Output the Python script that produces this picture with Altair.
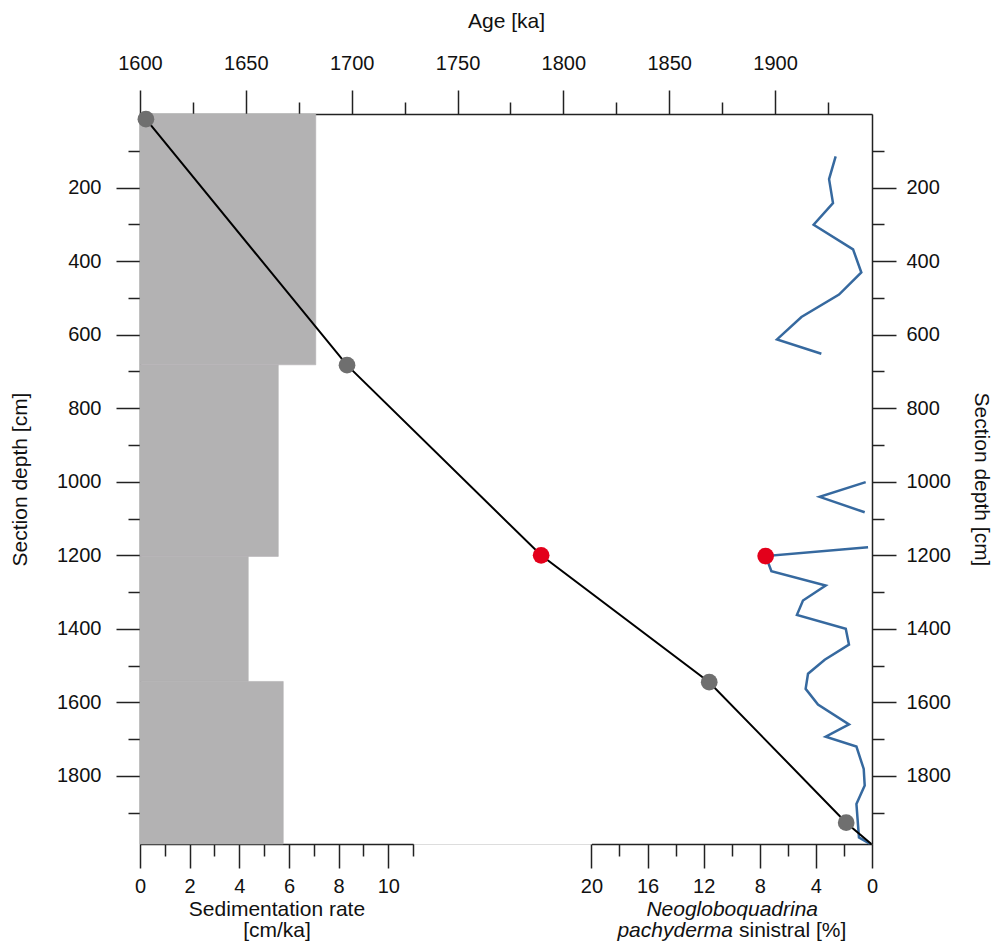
import altair as alt
import pandas as pd

FONT = "Liberation Sans"

# ---------------- data ----------------
# age-model tie points (age [ka], section depth [cm])
tie_age = [1602.8, 1697.8, 1789.5, 1868.9, 1933.6]
tie_depth = [14, 683, 1200, 1545, 1927]
tie_kind = ["grey", "grey", "red", "grey", "grey"]

# age-depth line
line_age = [1602.8, 1697.8, 1789.5, 1868.9, 1933.6, 1945.5]
line_depth = [14, 683, 1200, 1545, 1927, 1985]

# sedimentation rate intervals
sed_top = [0, 682, 1203, 1543]
sed_bottom = [682, 1203, 1543, 1985]
sed_rate = [7.08, 5.57, 4.36, 5.77]

# Neogloboquadrina pachyderma sinistral [%]
np_seg = [1] * 10 + [2] * 3 + [3] * 20
np_depth = [115, 177, 242, 301, 368, 431, 491, 552, 613, 652,
            1001, 1041, 1083,
            1178, 1202, 1243, 1282, 1323, 1362, 1400, 1443, 1484, 1522,
            1563, 1606, 1660, 1693, 1720, 1781, 1826, 1876, 1967, 1984]
np_pct = [2.59, 3.06, 2.78, 4.16, 1.35, 0.76, 2.35, 5.03, 6.77, 3.61,
          0.45, 3.73, 0.52,
          0.28, 7.58, 7.17, 3.30, 4.92, 5.35, 1.87, 1.64, 3.37, 4.56,
          4.73, 3.85, 1.64, 3.30, 1.11, 0.59, 0.52, 1.11, 0.93, 0.16]

red_np_depth = [1202]
red_np_pct = [7.58]

# tick values
age_major = [1600, 1650, 1700, 1750, 1800, 1850, 1900]
age_minor = [1625, 1675, 1725, 1775, 1825, 1875, 1925]
depth_major = [200, 400, 600, 800, 1000, 1200, 1400, 1600, 1800]
depth_minor = [100, 300, 500, 700, 900, 1100, 1300, 1500, 1700, 1900]
sed_major = [0, 2, 4, 6, 8, 10]
sed_minor = [1, 3, 5, 7, 9, 11]
pct_major = [0, 4, 8, 12, 16, 20]
pct_minor = [2, 6, 10, 14, 18]

# ---------------- frames ----------------
tie_df = pd.DataFrame({"age": tie_age, "depth": tie_depth, "kind": tie_kind})
line_df = pd.DataFrame({"age": line_age, "depth": line_depth})
sed_df = pd.DataFrame({"top": sed_top, "bottom": sed_bottom, "rate": sed_rate,
                       "zero": [0] * len(sed_rate)})
np_df = pd.DataFrame({"seg": np_seg, "depth": np_depth, "pct": np_pct})
red_df = pd.DataFrame({"depth": red_np_depth, "pct": red_np_pct})
dummy = pd.DataFrame({"v": [0], "d": [0]})

W, H = 732, 730
age_scale = alt.Scale(domain=[1600, 1945.8], nice=False, zero=False)
depth_scale = alt.Scale(domain=[0, 1985], nice=False, zero=False, reverse=True)
sed_scale = alt.Scale(domain=[0, 11], range=[0, 273.1], nice=False)
pct_scale = alt.Scale(domain=[0, 20], range=[732, 451.4], nice=False)

TXT = "#111111"
AX = "#222222"
TFS = 21
base = dict(labelFont=FONT, labelFontSize=20, labelColor=TXT, tickColor=AX,
            tickWidth=1.5, domainColor=AX, domainWidth=1.5, grid=False,
            labelFlush=False, labelOverlap=False, titleFont=FONT,
            titleFontSize=TFS, titleFontWeight="normal", titleColor=TXT,
            format="d")


def major(**kw):
    d = dict(base)
    d["tickSize"] = 24
    d.update(kw)
    return alt.Axis(**d)


def minor(values, orient):
    return alt.Axis(values=values, orient=orient, labels=False, domain=False,
                    ticks=True, tickSize=12, tickColor=AX, tickWidth=1.5,
                    grid=False, title=None)


def blank_title(text, **kw):
    d = dict(orient="bottom", values=[], labels=False, ticks=False,
             domain=False, grid=False, title=text, titleFont=FONT,
             titleFontSize=TFS, titleFontWeight="normal", titleColor=TXT)
    d.update(kw)
    return alt.Axis(**d)


# sedimentation-rate bars (bottom-left axis, left depth axis)
bars = alt.Chart(sed_df).mark_rect(
    color="#b3b2b3", stroke="#b3b2b3", strokeWidth=0.6
).encode(
    x=alt.X("zero:Q", scale=sed_scale,
            axis=major(orient="bottom", values=sed_major, labelPadding=8,
                       title=["Sedimentation rate", "[cm/ka]"], titleX=136.5,
                       titleY=71, titleAlign="center",
                       titleBaseline="alphabetic", titleLineHeight=21)),
    x2="rate:Q",
    y=alt.Y("top:Q", scale=depth_scale,
            axis=major(orient="left", values=depth_major, labelPadding=15,
                       title="Section depth [cm]", titleAngle=270,
                       titleX=-113.5, titleY=365, titleAlign="center",
                       titleBaseline="alphabetic")),
    y2="bottom:Q",
)

# minor ticks: sed rate + left depth
minor1 = alt.Chart(dummy).mark_point(opacity=0).encode(
    x=alt.X("v:Q", scale=sed_scale, axis=minor(sed_minor, "bottom")),
    y=alt.Y("d:Q", scale=depth_scale, axis=minor(depth_minor, "left")),
)

# minor ticks: age (top) + right depth
minor2 = alt.Chart(dummy).mark_point(opacity=0).encode(
    x=alt.X("v:Q", scale=age_scale, axis=minor(age_minor, "top")),
    y=alt.Y("d:Q", scale=depth_scale, axis=minor(depth_minor, "right")),
)

# minor ticks: pct
minor3 = alt.Chart(dummy).mark_point(opacity=0).encode(
    x=alt.X("v:Q", scale=pct_scale, axis=minor(pct_minor, "bottom")),
    y=alt.Y("d:Q", scale=depth_scale, axis=None),
)

# second title line of the pct axis (mixed italic)
t_pach = alt.Chart(dummy).mark_point(opacity=0).encode(
    x=alt.X("v:Q", scale=pct_scale,
            axis=blank_title("pachyderma", titleFontStyle="italic",
                             titleX=592.5, titleY=92, titleAlign="right",
                             titleBaseline="alphabetic")),
    y=alt.Y("d:Q", scale=depth_scale, axis=None),
)
t_sin = alt.Chart(dummy).mark_point(opacity=0).encode(
    x=alt.X("v:Q", scale=pct_scale,
            axis=blank_title("sinistral [%]", titleX=598.5, titleY=92,
                             titleAlign="left", titleBaseline="alphabetic")),
    y=alt.Y("d:Q", scale=depth_scale, axis=None),
)

# N. pachyderma curve (bottom-right axis)
np_line = alt.Chart(np_df).mark_line(color="#36699f", strokeWidth=2.5).encode(
    x=alt.X("pct:Q", scale=pct_scale,
            axis=major(orient="bottom", values=pct_major, labelPadding=8,
                       title="Neogloboquadrina", titleFontStyle="italic",
                       titleX=591.7, titleY=71, titleAlign="center",
                       titleBaseline="alphabetic")),
    y=alt.Y("depth:Q", scale=depth_scale, axis=None),
    detail="seg:N",
    order="depth:Q",
)

# age model line (top age axis, right depth axis)
age_line = alt.Chart(line_df).mark_line(color="#000000", strokeWidth=2).encode(
    x=alt.X("age:Q", scale=age_scale,
            axis=major(orient="top", values=age_major, labelPadding=17,
                       title="Age [ka]", titleX=366, titleY=-87,
                       titleAlign="center", titleBaseline="alphabetic")),
    y=alt.Y("depth:Q", scale=depth_scale,
            axis=major(orient="right", values=depth_major, labelPadding=10,
                       title="Section depth [cm]", titleAngle=90,
                       titleX=102, titleY=365, titleAlign="center",
                       titleBaseline="alphabetic")),
    order="depth:Q",
)

tie_pts = alt.Chart(tie_df).mark_circle(size=280, opacity=1).encode(
    x=alt.X("age:Q", scale=age_scale, axis=None),
    y=alt.Y("depth:Q", scale=depth_scale, axis=None),
    color=alt.Color("kind:N", scale=alt.Scale(domain=["grey", "red"],
                                               range=["#6f6f6f", "#e3001b"]),
                    legend=None),
)

red_pt = alt.Chart(red_df).mark_circle(size=280, opacity=1, color="#e3001b").encode(
    x=alt.X("pct:Q", scale=pct_scale, axis=None),
    y=alt.Y("depth:Q", scale=depth_scale, axis=None),
)

chart = alt.layer(
    bars, minor1, minor2, minor3, t_pach, t_sin, np_line, age_line, tie_pts, red_pt
).resolve_scale(
    x="independent", y="independent"
).properties(
    width=W, height=H,
    autosize=alt.AutoSizeParams(type="none"),
    padding={"left": 132, "top": 106, "right": 122, "bottom": 97},
).configure_view(stroke=None).configure(background="white")

chart.save("out.html", embed_options={"renderer": "svg", "actions": False})
